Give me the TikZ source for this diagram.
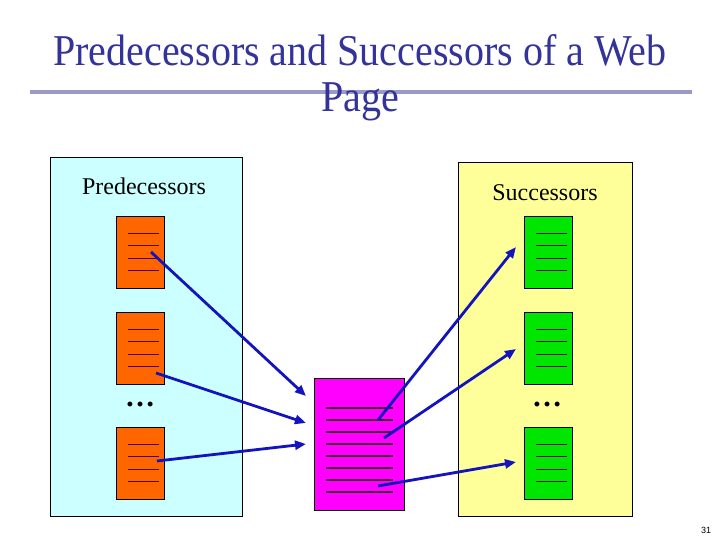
\documentclass[tikz,border=0pt]{standalone}
\usepackage{fontspec}
\setmainfont{Liberation Serif}
\newfontfamily\pgnumfont{Liberation Sans}
\usetikzlibrary{arrows.meta,calc}
\definecolor{titleblue}{RGB}{51,51,153}
\definecolor{rulecol}{RGB}{153,153,204}
\definecolor{panelcyan}{RGB}{204,255,255}
\definecolor{panelyellow}{RGB}{255,255,153}
\definecolor{docorange}{RGB}{255,102,0}
\definecolor{docgreen}{RGB}{0,230,0}
\definecolor{docmagenta}{RGB}{255,0,255}
\definecolor{arrowblue}{RGB}{20,20,190}
\definecolor{doclinecol}{RGB}{70,10,50}
\tikzset{
  panel/.style={draw=black, line width=0.8pt, anchor=north west, inner sep=0pt},
  docbox/.style={draw=black, line width=0.9pt, anchor=north west, inner sep=0pt,
                 minimum width=48pt, minimum height=72pt},
  docline/.style={draw=doclinecol, line width=1.1pt},
  link/.style={draw=arrowblue, line width=2.8pt, -{Triangle[length=11pt,width=9pt]}},
  lbl/.style={font=\fontsize{24}{28}\selectfont, anchor=base, inner sep=0pt},
  dots/.style={font=\fontsize{30}{32}\selectfont\bfseries, inner sep=0pt},
  titletext/.style={anchor=base, inner sep=0pt, text=titleblue, font=\fontsize{40}{44}\selectfont}
}
\begin{document}
\begin{tikzpicture}[x=1pt,y=-1pt]
\useasboundingbox[fill=white] (0,0) rectangle (720,540);
% title
\node[titletext] (t1) at (360,66) {\scalebox{1}[1.1]{Predecessors and Successors of a Web}};
\draw[rulecol, line width=4pt] (30,92) coordinate (r1) -- (692,92) coordinate (r2);
\node[titletext] (t2) at (360,112) {\scalebox{1}[1.1]{Page}};
% panels
\node[panel, fill=panelcyan, minimum width=192pt, minimum height=359pt] (lp) at (50,157) {};
\node[panel, fill=panelyellow, minimum width=174pt, minimum height=354pt] (rp) at (458,162) {};
\node[lbl] (lpl) at (144,195) {Predecessors};
\node[lbl] (rpl) at (545,201) {Successors};
% docs
\node[docbox, fill=docorange] (o1) at (116,216) {};
\node[docbox, fill=docorange] (o2) at (116,312) {};
\node[docbox, fill=docorange] (o3) at (116,427) {};
\node[docbox, fill=docgreen] (g1) at (524,216) {};
\node[docbox, fill=docgreen] (g2) at (524,312) {};
\node[docbox, fill=docgreen] (g3) at (524,427) {};
\node[docbox, fill=docmagenta, minimum width=90pt, minimum height=132pt] (m) at (314,378) {};
\foreach \n in {o1,o2,o3,g1,g2,g3}
  \foreach \k in {0,...,3}
    \draw[docline] ($(\n.north west)+(12,17.5+12.3*\k)$) -- ++(31,0);
\foreach \k in {0,...,7}
  \draw[docline] ($(m.north west)+(12,30+12*\k)$) -- ++(67,0);
% dots
\node[dots] (ld) at (140,404) {…};
\node[dots] (rd) at (547,404) {…};
% arrows
\coordinate (a1s) at (151,252); \coordinate (a1e) at (306,396);
\coordinate (a2s) at (156,373); \coordinate (a2e) at (306,423);
\coordinate (a3s) at (157,461); \coordinate (a3e) at (306,444);
\coordinate (b1s) at (378,420); \coordinate (b1e) at (516,247);
\coordinate (b2s) at (384,438); \coordinate (b2e) at (516,349);
\coordinate (b3s) at (378,486); \coordinate (b3e) at (516,462);
\draw[link] (a1s) -- (a1e);
\draw[link] (a2s) -- (a2e);
\draw[link] (a3s) -- (a3e);
\draw[link] (b1s) -- (b1e);
\draw[link] (b2s) -- (b2e);
\draw[link] (b3s) -- (b3e);
% page number
\node[font=\pgnumfont\fontsize{9}{10}\selectfont, inner sep=0pt] (pn) at (706,530) {31};
\end{tikzpicture}
\end{document}
